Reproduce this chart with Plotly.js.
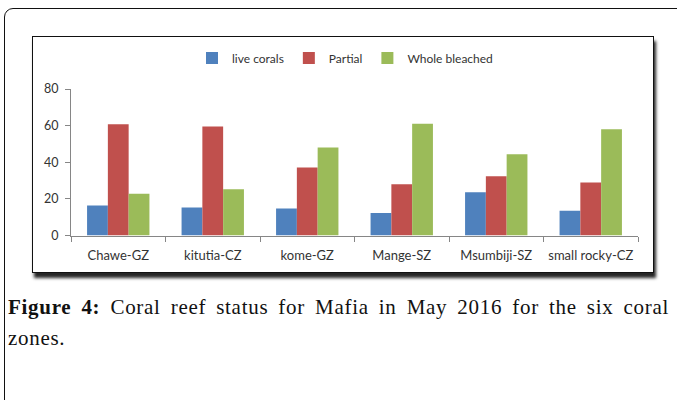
<!DOCTYPE html>
<html>
<head>
<meta charset="utf-8">
<script src="https://cdn.plot.ly/plotly-3.0.1.min.js"></script>
<style>
  html, body { margin:0; padding:0; background:#fff; width:677px; height:400px; overflow:hidden; }
  #frame { position:absolute; left:4px; top:8px; width:700px; height:420px; border:1.5px solid #111; border-top-left-radius:9px; box-sizing:border-box; }
  #box { position:absolute; left:32px; top:36px; width:622px; height:237px; border:1px solid #111; box-sizing:border-box; background:#fff; box-shadow: 2px 5px 3px rgba(0,0,0,0.85); }
  #chart { position:absolute; left:0; top:0; width:677px; height:400px; }
  #cap { position:absolute; left:8px; top:292px; width:661px; font-family:"Liberation Serif", "Times New Roman", serif; font-size:21px; letter-spacing:0.7px; line-height:31px; color:#111; }
  #cap .l1 { text-align:justify; text-align-last:justify; white-space:nowrap; }
</style>
</head>
<body>
<div id="frame"></div>
<div id="box"></div>
<div id="chart"></div>
<div id="cap">
  <div class="l1"><b>Figure 4:</b> Coral reef status for Mafia in May 2016 for the six coral</div>
  <div>zones.</div>
</div>
<script>
const categories = ["Chawe-GZ", "kitutia-CZ", "kome-GZ", "Mange-SZ", "Msumbiji-SZ", "small rocky-CZ"];
const liveCorals = [16.4, 15.3, 14.7, 12.3, 23.6, 13.5];
const partial = [60.8, 59.5, 37.2, 28.0, 32.3, 29.0];
const wholeBleached = [22.8, 25.3, 48.1, 61.0, 44.4, 58.0];
const yTicks = [0, 20, 40, 60, 80];

const W = 677, H = 400;
const fam = "Lato, 'Noto Sans', sans-serif";

const traces = [
  {type: "bar", name: "live corals", x: categories, y: liveCorals, marker: {color: "#4F81BD"}},
  {type: "bar", name: "Partial", x: categories, y: partial, marker: {color: "#C0504D"}},
  {type: "bar", name: "Whole bleached", x: categories, y: wholeBleached, marker: {color: "#9BBB59"}}
];

const layout = {
  width: W, height: H,
  margin: {l: 0, r: 0, t: 0, b: 0, autoexpand: false},
  paper_bgcolor: "rgba(0,0,0,0)",
  plot_bgcolor: "rgba(0,0,0,0)",
  font: {family: fam, size: 12, color: "#333"},
  barmode: "group",
  bargap: 0.34,
  bargroupgap: 0,
  showlegend: true,
  legend: {
    orientation: "h", x: 345 / W, xanchor: "center", y: 1 - 58 / H, yanchor: "middle",
    font: {family: fam, size: 12, color: "#333"},
    itemwidth: 30, tracegroupgap: 0, bgcolor: "rgba(0,0,0,0)"
  },
  xaxis: {
    domain: [71 / W, 638 / W],
    type: "category",
    showline: true, linecolor: "#868686", linewidth: 1,
    ticks: "outside", tickson: "boundaries", ticklen: 5, tickcolor: "#868686",
    ticklabelstandoff: 8,
    showgrid: false, zeroline: false,
    tickfont: {family: fam, size: 13, color: "#333"},
    fixedrange: true
  },
  yaxis: {
    domain: [(H - 235.5) / H, (H - 89) / H],
    range: [0, 80],
    tickvals: yTicks,
    showline: true, linecolor: "#868686", linewidth: 1,
    ticks: "outside", ticklen: 5, tickcolor: "#868686",
    ticklabelstandoff: 4,
    showgrid: false, zeroline: false,
    tickfont: {family: fam, size: 12.5, color: "#333"},
    fixedrange: true
  }
};

Plotly.newPlot("chart", traces, layout, {displayModeBar: false, staticPlot: true});
</script>
</body>
</html>
